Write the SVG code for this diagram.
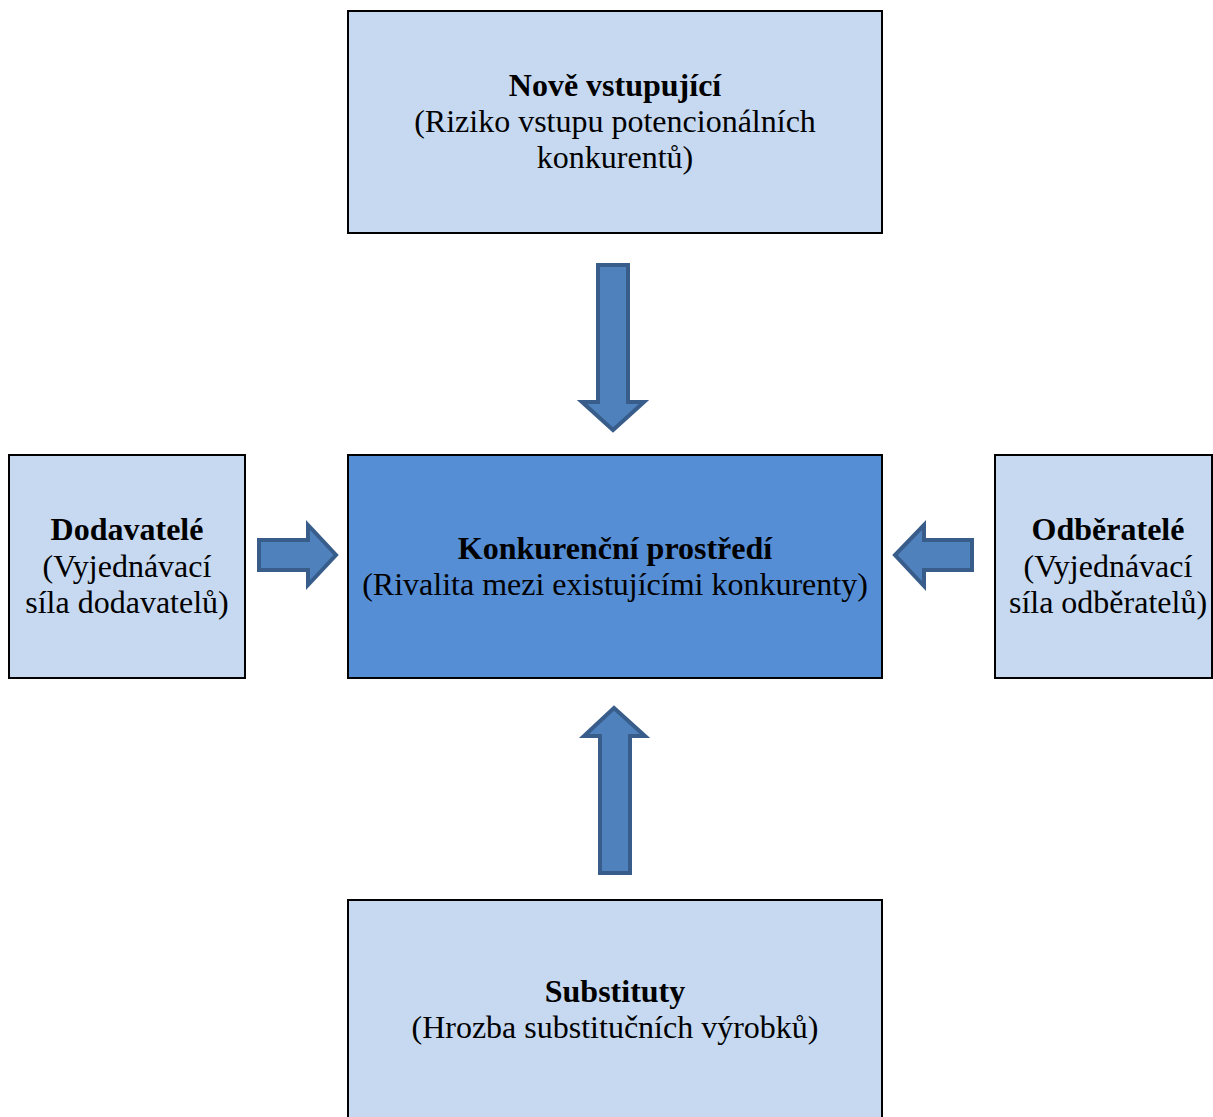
<svg xmlns="http://www.w3.org/2000/svg" width="1213" height="1117" viewBox="0 0 1213 1117">
<style>
.box{fill:#C6D9F1;stroke:#000;stroke-width:2}
.core{fill:#558ED5;stroke:#000;stroke-width:2}
.arr{fill:#4F81BD;stroke:#385D8A;stroke-width:4;stroke-linejoin:miter}
text{font-family:"Liberation Serif","Times New Roman",serif;font-size:32px;fill:#000;text-anchor:middle}
.b{font-weight:bold}
</style>
<rect width="1213" height="1117" fill="#fff"/>
<g id="connectors">
<path class="arr" d="M598,265 H628 V402 H644 L613,430 L582,402 H598 Z"/>
<path class="arr" d="M259,540 H308 V525 L336,555 L308,585 V570 H259 Z"/>
<path class="arr" d="M972,540 H924 V525 L895,555 L924,586 V570 H972 Z"/>
<path class="arr" d="M600,873 H630 V736 H645 L614,708 L584,736 H600 Z"/>
</g>
<g id="node-top">
<rect class="box" x="348" y="11" width="534" height="222"/>
<text x="615" y="96" class="b">Nově vstupující</text>
<text x="615" y="132">(Riziko vstupu potencionálních</text>
<text x="615" y="168">konkurentů)</text>
</g>
<g id="node-center">
<rect class="core" x="348" y="455" width="534" height="223"/>
<text x="615" y="559" class="b">Konkurenční prostředí</text>
<text x="615" y="595">(Rivalita mezi existujícími konkurenty)</text>
</g>
<g id="node-left">
<rect class="box" x="9" y="455" width="236" height="223"/>
<text x="127" y="540" class="b">Dodavatelé</text>
<text x="127" y="577">(Vyjednávací</text>
<text x="127" y="613">síla dodavatelů)</text>
</g>
<g id="node-right">
<rect class="box" x="995" y="455" width="217" height="223"/>
<text x="1108" y="540" class="b">Odběratelé</text>
<text x="1108" y="577">(Vyjednávací</text>
<text x="1108" y="613">síla odběratelů)</text>
</g>
<g id="node-bottom">
<rect class="box" x="348" y="900" width="534" height="230"/>
<text x="615" y="1002" class="b">Substituty</text>
<text x="615" y="1038">(Hrozba substitučních výrobků)</text>
</g>
</svg>
